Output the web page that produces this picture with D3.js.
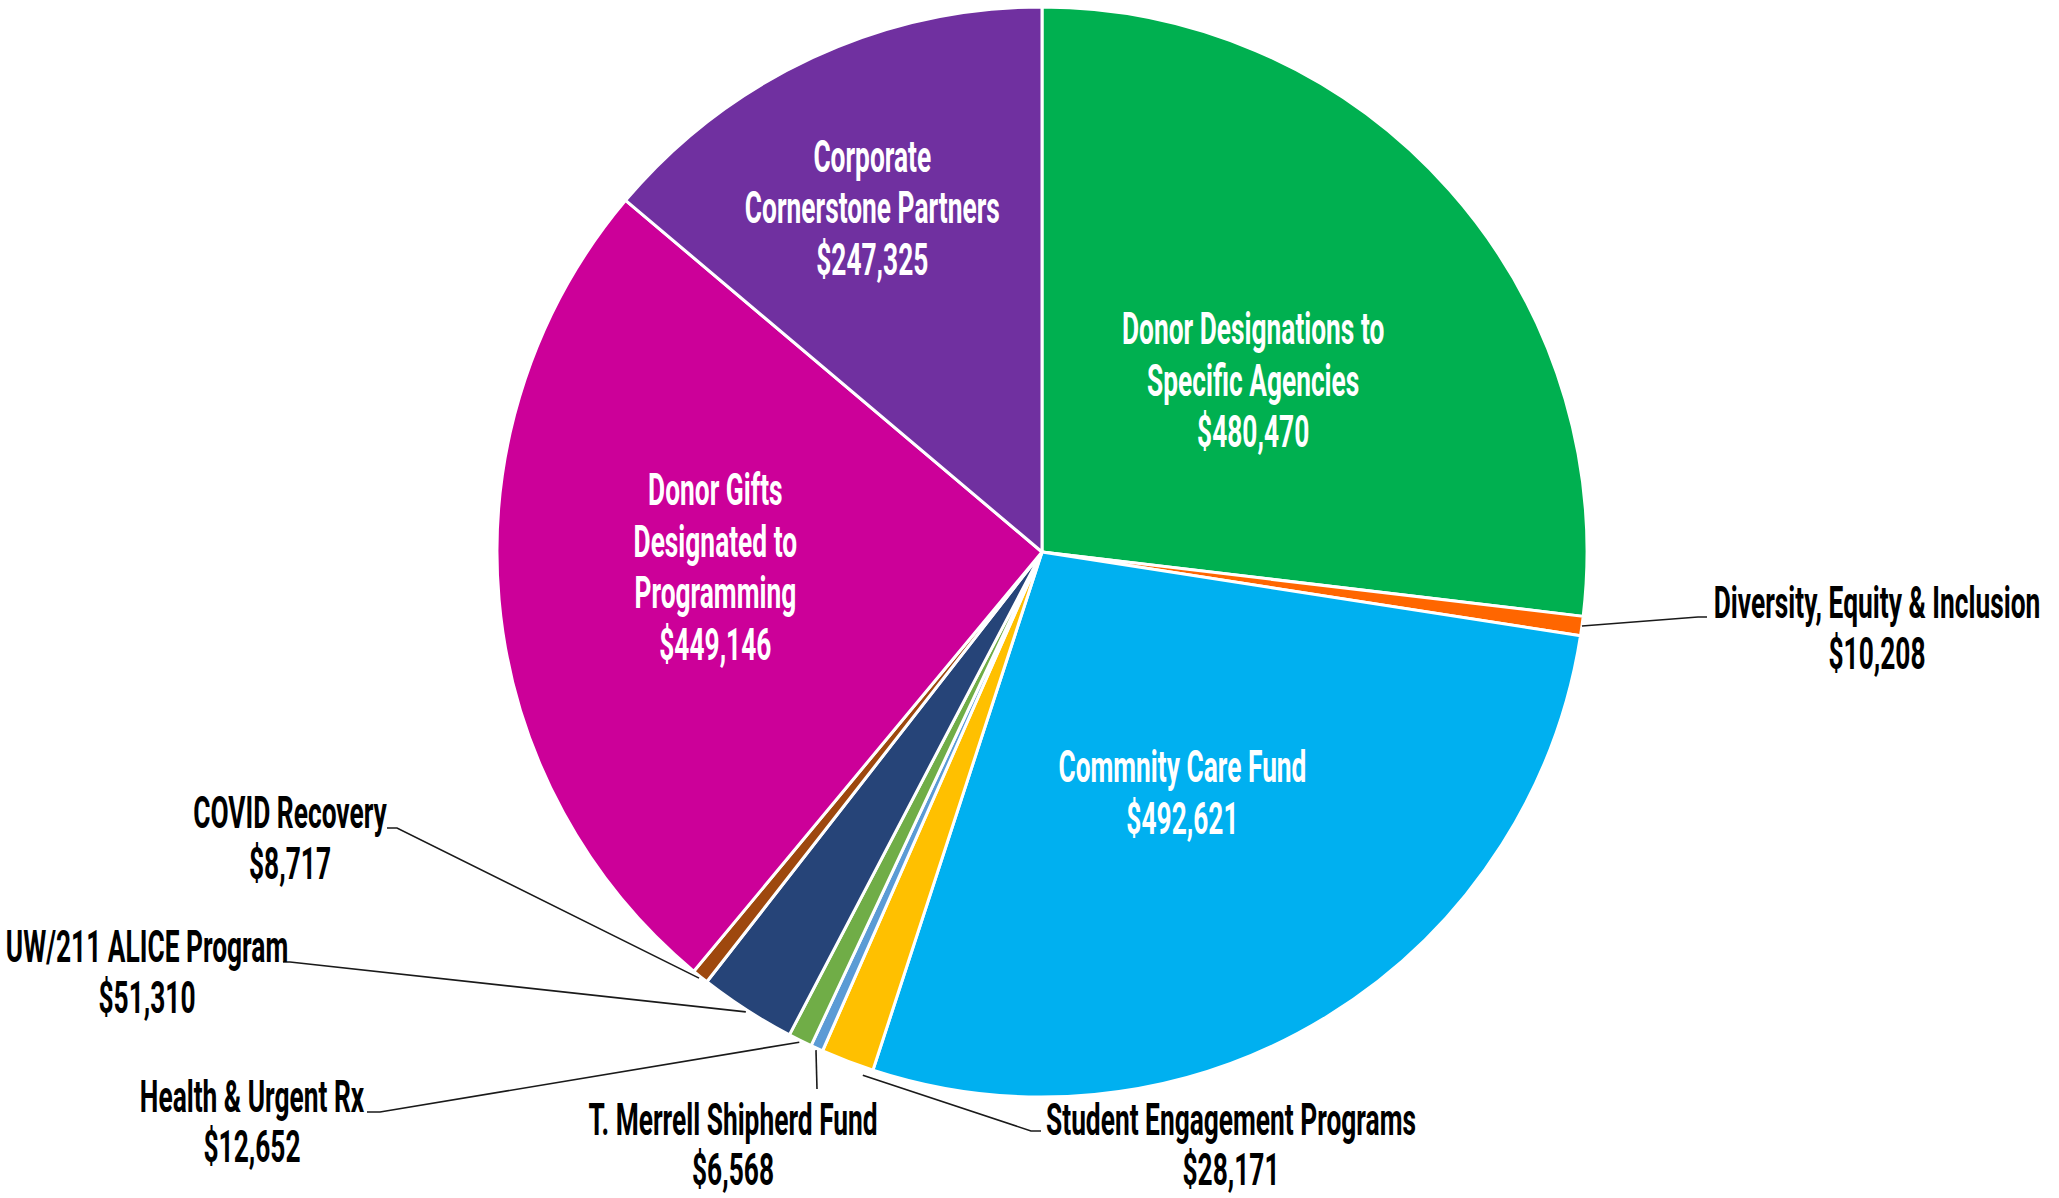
<!DOCTYPE html>
<html>
<head>
<meta charset="utf-8">
<script src="https://cdn.jsdelivr.net/npm/d3@7"></script>
<style>
  html, body { margin: 0; padding: 0; background: #ffffff; }
  svg { display: block; }
  text { font-family: Roboto, "Liberation Sans", sans-serif; font-weight: 700; }
</style>
</head>
<body>
<svg id="chart" width="2059" height="1198"></svg>
<script>
// ---- data (clockwise from 12 o'clock) ----
const categories = [
  "Donor Designations to Specific Agencies",
  "Diversity, Equity & Inclusion",
  "Commnity Care Fund",
  "Student Engagement Programs",
  "T. Merrell Shipherd Fund",
  "Health & Urgent Rx",
  "UW/211 ALICE Program",
  "COVID Recovery",
  "Donor Gifts Designated to Programming",
  "Corporate Cornerstone Partners"
];
const values = [480470, 10208, 492621, 28171, 6568, 12652, 51310, 8717, 449146, 247325];
const labelLines = [
  ["Donor Designations to", "Specific Agencies"],
  ["Diversity, Equity & Inclusion"],
  ["Commnity Care Fund"],
  ["Student Engagement Programs"],
  ["T. Merrell Shipherd Fund"],
  ["Health & Urgent Rx"],
  ["UW/211 ALICE Program"],
  ["COVID Recovery"],
  ["Donor Gifts", "Designated to", "Programming"],
  ["Corporate", "Cornerstone Partners"]
];
const colors = ["#00B050", "#FF6600", "#00B0F0", "#FFC000", "#5B9BD5",
                "#70AD47", "#264478", "#9E480E", "#CC0099", "#7030A0"];

// ---- layout ----
const W = 2059, H = 1198;
const cx = 1042, cy = 552, R = 545;
const fontSize = 45, lineH = 51.5, sx = 0.585;

// inside labels: radius factor and small angle nudge (degrees)
const inside = {
  0: { rf: 0.50, da: 2.4 },
  2: { rf: 0.51, da: 1.2 },
  8: { rf: 0.60, da: 2.5 },
  9: { rf: 0.705, da: -1.3 }
};
// outside labels: text centre x, first baseline, leader path points (after arc point)
const outside = {
  1: { x: 1877, y: 618, pts: [[1698, 617], [1707, 617]], rOff: 0 },
  3: { x: 1231, y: 1135, pts: [[1031, 1131], [1041, 1131]], rOff: 8, aOff: -2 },
  4: { x: 733, y: 1135, pts: [[817, 1089]], rOff: 2 },
  5: { x: 252, y: 1112, pts: [[380, 1112], [367, 1112]], rOff: 2 },
  6: { x: 147, y: 962, pts: [[290, 962], [283, 962]], rOff: 2 },
  7: { x: 290, y: 828, pts: [[397, 828], [387, 828]], rOff: 2 }
};

const fmt = v => "$" + d3.format(",")(v);
const svg = d3.select("#chart");
const g = svg.append("g").attr("transform", `translate(${cx},${cy})`);

const pie = d3.pie().sort(null).value(d => d)(values);
const arc = d3.arc().innerRadius(0).outerRadius(R);

g.selectAll("path.slice")
  .data(pie)
  .join("path")
  .attr("class", "slice")
  .attr("d", arc)
  .attr("fill", (d, i) => colors[i])
  .attr("stroke", "#ffffff")
  .attr("stroke-width", 3)
  .attr("stroke-linejoin", "round");

function polar(angle, r) { // angle in radians, from 12 o'clock clockwise
  return [cx + r * Math.sin(angle), cy - r * Math.cos(angle)];
}

function drawLines(x, y, lines, fill, lh) {
  const grp = svg.append("g").attr("transform", `translate(${x},${y}) scale(${sx},1)`);
  lines.forEach((t, k) => {
    grp.append("text")
      .attr("x", 0).attr("y", k * lh)
      .attr("text-anchor", "middle")
      .attr("font-size", fontSize)
      .attr("fill", fill)
      .text(t);
  });
}

pie.forEach((d, i) => {
  const mid = (d.startAngle + d.endAngle) / 2;
  const lines = labelLines[i].concat([fmt(values[i])]);
  if (inside[i]) {
    const L = inside[i];
    const [px, py] = polar(mid + L.da * Math.PI / 180, L.rf * R);
    const firstBase = py - ((lines.length - 1) * lineH) / 2 + fontSize * 0.355;
    drawLines(px, firstBase, lines, "#ffffff", lineH);
  } else {
    const O = outside[i];
    const start = polar(mid + (O.aOff || 0) * Math.PI / 180, R + O.rOff);
    const pts = [start].concat(O.pts);
    svg.append("path")
      .attr("d", d3.line()(pts))
      .attr("fill", "none")
      .attr("stroke", "#1a1a1a")
      .attr("stroke-width", 1.6);
    drawLines(O.x, O.y, lines, "#000000", O.y > 1100 ? lineH - 1.5 : lineH);
  }
});
</script>
</body>
</html>
